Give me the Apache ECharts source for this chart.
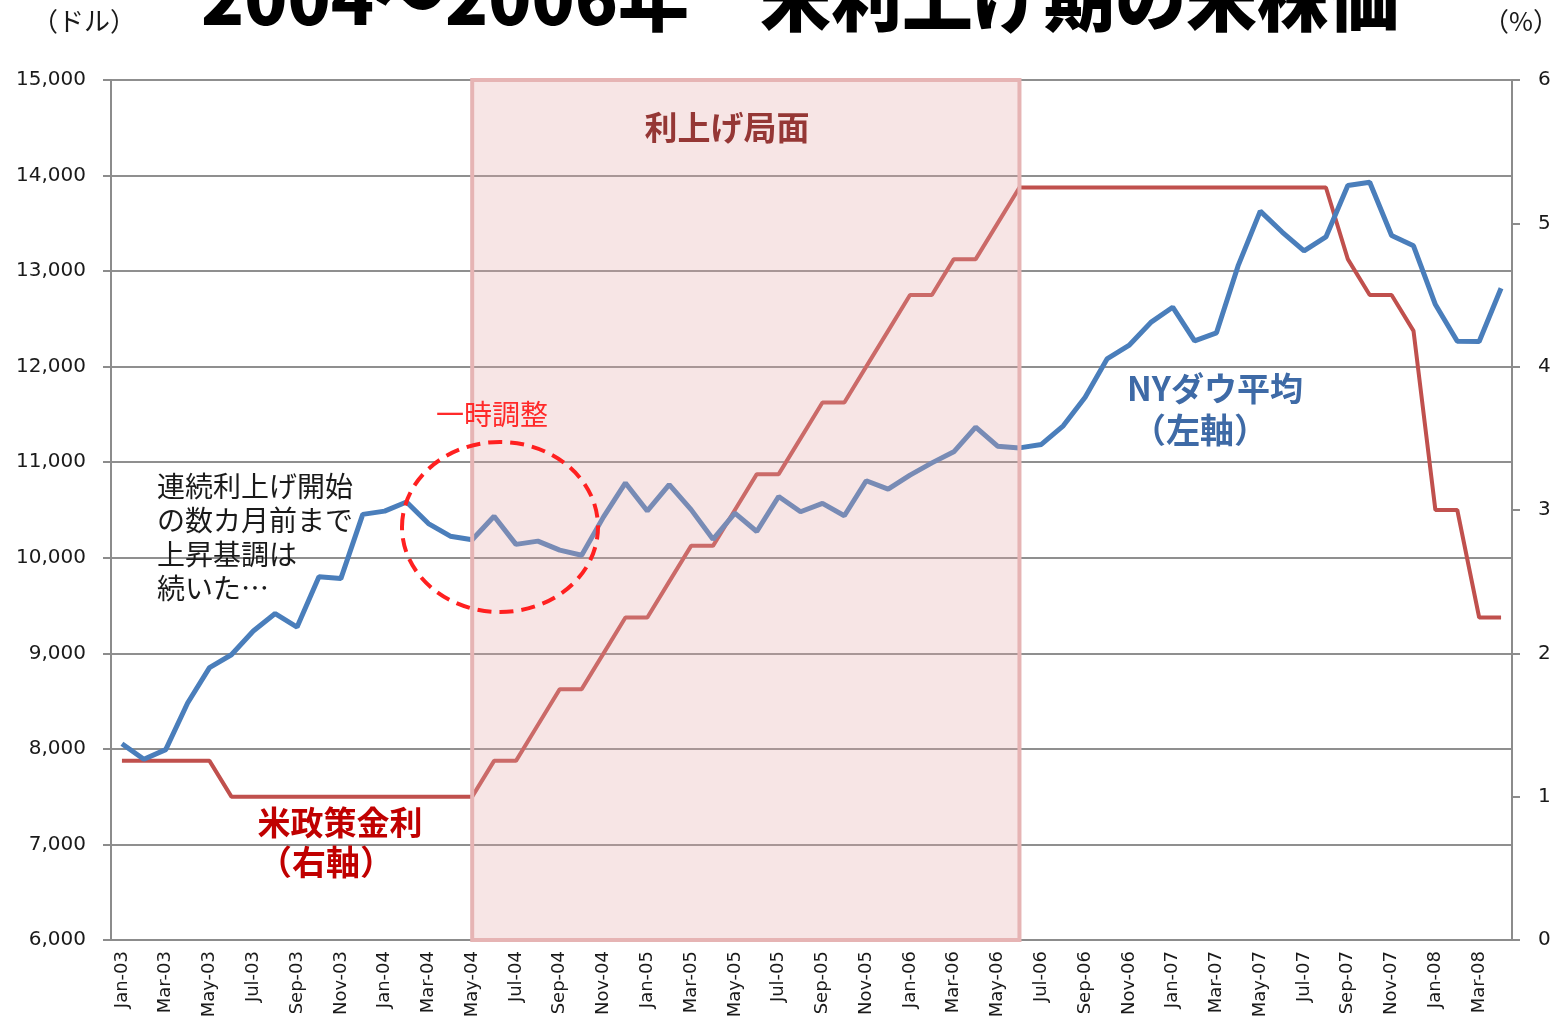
<!DOCTYPE html>
<html>
<head>
<meta charset="utf-8">
<script src="https://cdn.jsdelivr.net/npm/echarts@6/dist/echarts.min.js"></script>
<style>
  html, body { margin: 0; padding: 0; background: #fff; }
  #chart { width: 1561px; height: 1030px; }
</style>
</head>
<body>
<div id="chart"></div>
<script>
// months Jan-03 .. Apr-08
const categories = [
  'Jan-03','Feb-03','Mar-03','Apr-03','May-03','Jun-03','Jul-03','Aug-03','Sep-03','Oct-03','Nov-03','Dec-03',
  'Jan-04','Feb-04','Mar-04','Apr-04','May-04','Jun-04','Jul-04','Aug-04','Sep-04','Oct-04','Nov-04','Dec-04',
  'Jan-05','Feb-05','Mar-05','Apr-05','May-05','Jun-05','Jul-05','Aug-05','Sep-05','Oct-05','Nov-05','Dec-05',
  'Jan-06','Feb-06','Mar-06','Apr-06','May-06','Jun-06','Jul-06','Aug-06','Sep-06','Oct-06','Nov-06','Dec-06',
  'Jan-07','Feb-07','Mar-07','Apr-07','May-07','Jun-07','Jul-07','Aug-07','Sep-07','Oct-07','Nov-07','Dec-07',
  'Jan-08','Feb-08','Mar-08','Apr-08'
];

// NY Dow (left axis, $)
const dowValues = [
  8054, 7891, 7992, 8480, 8850, 8985, 9234, 9416, 9275, 9801, 9782, 10454,
  10488, 10584, 10358, 10226, 10188, 10435, 10140, 10174, 10080, 10027, 10428, 10783,
  10490, 10766, 10504, 10193, 10467, 10275, 10641, 10482, 10569, 10440, 10806, 10718,
  10865, 10993, 11109, 11367, 11168, 11150, 11186, 11381, 11679, 12081, 12222, 12463,
  12622, 12269, 12354, 13063, 13628, 13409, 13212, 13358, 13896, 13930, 13372, 13265,
  12650, 12266, 12263, 12820
];

// US policy rate (right axis, %)
const rateValues = [
  1.25, 1.25, 1.25, 1.25, 1.25, 1.0, 1.0, 1.0, 1.0, 1.0, 1.0, 1.0,
  1.0, 1.0, 1.0, 1.0, 1.0, 1.25, 1.25, 1.5, 1.75, 1.75, 2.0, 2.25,
  2.25, 2.5, 2.75, 2.75, 3.0, 3.25, 3.25, 3.5, 3.75, 3.75, 4.0, 4.25,
  4.5, 4.5, 4.75, 4.75, 5.0, 5.25, 5.25, 5.25, 5.25, 5.25, 5.25, 5.25,
  5.25, 5.25, 5.25, 5.25, 5.25, 5.25, 5.25, 5.25, 4.75, 4.5, 4.5, 4.25,
  3.0, 3.0, 2.25, 2.25
];

// hiking period shading
const hikeStart = 'May-04';
const hikeEnd = 'Jun-06';

const jpFont = '"Noto Sans CJK JP", sans-serif';
const numFont = '"DejaVu Sans", sans-serif';
const axisGray = '#8c8c8c';

const chart = echarts.init(document.getElementById('chart'));

const option = {
  animation: false,
  title: {
    text: '2004～2006年　米利上げ期の米株価',
    left: 196,
    top: -42,
    textStyle: { fontFamily: jpFont, fontSize: 71, fontWeight: 900, color: '#000' }
  },
  grid: { left: 111, right: 49, top: 80, bottom: 90 },
  xAxis: {
    type: 'category',
    data: categories,
    boundaryGap: true,
    axisLine: { lineStyle: { color: axisGray, width: 2 } },
    axisTick: { interval: 1, length: 7, lineStyle: { color: axisGray, width: 2 } },
    axisLabel: {
      interval: 1,
      rotate: 90,
      margin: 11,
      color: '#1a1a1a',
      fontFamily: numFont,
      fontSize: 18
    },
    splitLine: { show: false }
  },
  yAxis: [
    {
      type: 'value',
      min: 6000,
      max: 15000,
      interval: 1000,
      axisLine: { show: true, lineStyle: { color: axisGray, width: 2 } },
      axisTick: { show: true, length: 8, lineStyle: { color: axisGray, width: 2 } },
      axisLabel: {
        margin: 25,
        color: '#1a1a1a',
        fontFamily: numFont,
        fontSize: 20,
        formatter: v => v.toLocaleString('en-US')
      },
      splitLine: { lineStyle: { color: '#8f8f8f', width: 2 } }
    },
    {
      type: 'value',
      min: 0,
      max: 6,
      interval: 1,
      position: 'right',
      axisLine: { show: true, lineStyle: { color: axisGray, width: 2 } },
      axisTick: { show: true, length: 8, lineStyle: { color: axisGray, width: 2 } },
      axisLabel: { margin: 26, color: '#1a1a1a', fontFamily: numFont, fontSize: 20 },
      splitLine: { show: false }
    }
  ],
  series: [
    {
      name: '米政策金利',
      type: 'line',
      yAxisIndex: 1,
      data: rateValues,
      symbol: 'none',
      lineStyle: { color: '#c0504d', width: 4 },
      z: 2
    },
    {
      name: 'NYダウ平均',
      type: 'line',
      yAxisIndex: 0,
      data: dowValues,
      symbol: 'none',
      lineStyle: { color: '#4a7ebb', width: 5 },
      z: 3,
      markArea: {
        silent: true,
        z: 5,
        itemStyle: {
          color: 'rgba(228,168,168,0.3)',
          borderColor: '#e6b4b4',
          borderWidth: 4
        },
        data: [[{ xAxis: hikeStart, y: 80 }, { xAxis: hikeEnd, y: 940 }]]
      }
    }
  ],
  graphic: [
    { type: 'text', left: 32, top: 8, style: { text: '（ドル）', fontFamily: jpFont, fontSize: 26, fill: '#1a1a1a' } },
    { type: 'text', right: 2, top: 8, style: { text: '（%）', fontFamily: jpFont, fontSize: 26, fill: '#1a1a1a' } },
    { type: 'text', x: 727, y: 127, style: { text: '利上げ局面', fontFamily: jpFont, fontSize: 33, fontWeight: 'bold', fill: '#953735', align: 'center', verticalAlign: 'middle' }, z: 10 },
    { type: 'text', x: 492, y: 414, style: { text: '一時調整', fontFamily: jpFont, fontSize: 28, fill: '#ff2a2a', align: 'center', verticalAlign: 'middle' }, z: 10 },
    {
      type: 'ellipse',
      shape: { cx: 500, cy: 527, rx: 98, ry: 85 },
      style: { fill: 'none', stroke: '#ff2020', lineWidth: 4, lineDash: [14, 8] },
      z: 10
    },
    {
      type: 'text', x: 157, y: 469,
      style: {
        text: '連続利上げ開始\nの数カ月前まで\n上昇基調は\n続いた…',
        fontFamily: jpFont, fontSize: 28, lineHeight: 34, fill: '#1a1a1a'
      },
      z: 10
    },
    { type: 'text', x: 340, y: 822, style: { text: '米政策金利', fontFamily: jpFont, fontSize: 33, fontWeight: 'bold', fill: '#c00000', align: 'center', verticalAlign: 'middle' }, z: 10 },
    { type: 'text', x: 326, y: 862, style: { text: '（右軸）', fontFamily: jpFont, fontSize: 34, fontWeight: 'bold', fill: '#c00000', align: 'center', verticalAlign: 'middle' }, z: 10 },
    { type: 'text', x: 1215, y: 388, style: { text: 'NYダウ平均', fontFamily: jpFont, fontSize: 33, fontWeight: 'bold', fill: '#3e6aa6', align: 'center', verticalAlign: 'middle' }, z: 10 },
    { type: 'text', x: 1200, y: 430, style: { text: '（左軸）', fontFamily: jpFont, fontSize: 34, fontWeight: 'bold', fill: '#3e6aa6', align: 'center', verticalAlign: 'middle' }, z: 10 }
  ]
};

chart.setOption(option);
window.addEventListener('resize', () => chart.resize());
</script>
</body>
</html>
